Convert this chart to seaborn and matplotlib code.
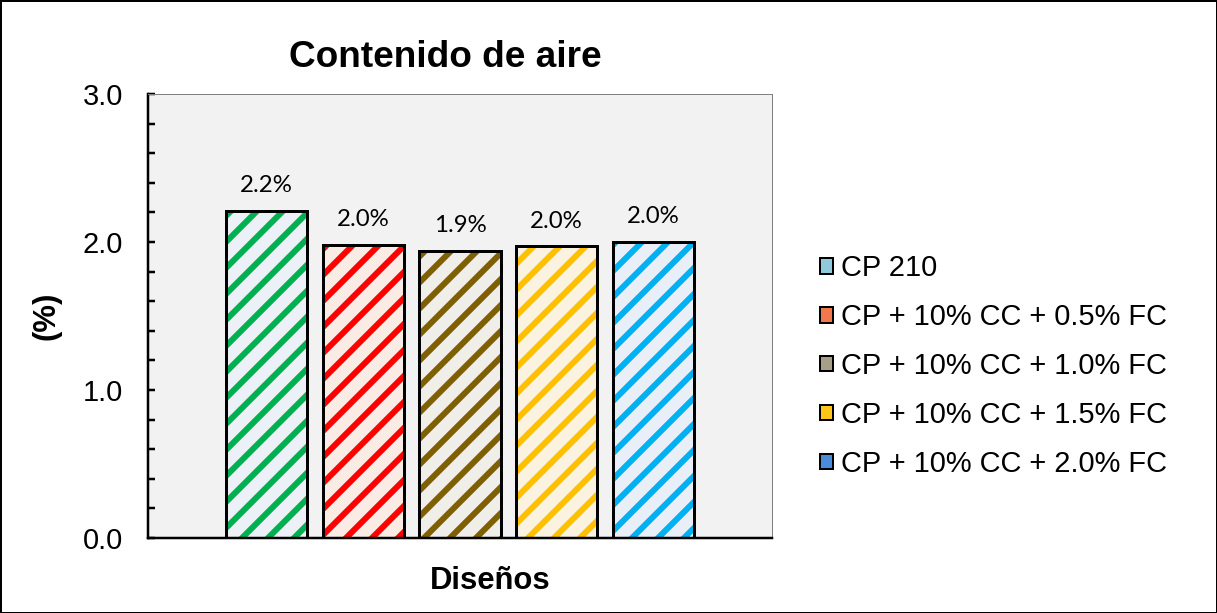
import pandas as pd
import seaborn as sns
import matplotlib.pyplot as plt
from matplotlib.patches import Rectangle, Patch

# data
disenos = ['CP 210', 'CP + 10% CC + 0.5% FC', 'CP + 10% CC + 1.0% FC',
           'CP + 10% CC + 1.5% FC', 'CP + 10% CC + 2.0% FC']
aire = [2.21, 1.98, 1.94, 1.97, 2.00]
etiquetas = ['2.2%', '2.0%', '1.9%', '2.0%', '2.0%']

hatch_colors = ['#00B050', '#FF0000', '#7F6000', '#FFC000', '#00B0F0']
face_colors = ['#EAF1FA', '#FDEBE2', '#F0EEE8', '#FFF5DC', '#E6EFFB']
legend_colors = ['#8FC9DC', '#F2784B', '#A59F88', '#FFC61A', '#4A8CDB']

data = pd.DataFrame({'Diseño': disenos, 'Aire': aire})

# dpi chosen so the hatch spacing matches the reference
DPI = 78
def px(v):
    return v * 72 / DPI

sns.set_theme(style='white')
plt.rcParams['font.family'] = ['Liberation Sans', 'DejaVu Sans']
plt.rcParams['hatch.linewidth'] = px(6)
for k in ['text.color', 'axes.labelcolor', 'xtick.color', 'ytick.color']:
    plt.rcParams[k] = 'black'

fig = plt.figure(figsize=(1217 / DPI, 613 / DPI), dpi=DPI)
ax = fig.add_axes([148 / 1217, 1 - 538 / 613, 624 / 1217, 444 / 613])
ax.set_facecolor('#F2F2F2')

sns.barplot(x='Diseño', y='Aire', data=data, hue='Diseño', palette=face_colors,
            dodge=False, legend=False, width=0.84, ax=ax)

for p, hc, lab in zip(ax.patches, hatch_colors, etiquetas):
    p.set_edgecolor(hc)
    p.set_hatch('/')
    p.set_linewidth(0)
    ax.add_patch(Rectangle(p.get_xy(), p.get_width(), p.get_height(), fill=False,
                           edgecolor='black', linewidth=px(3), zorder=3))
    ax.text(p.get_x() + p.get_width() / 2, p.get_height() + 0.1, lab,
            ha='center', va='bottom', fontsize=px(24), family=['Lato', 'DejaVu Sans'])

ax.set_xlim(-1.23, 5.23)
ax.set_ylim(0, 3)
ax.set_xticks([])
ax.set_yticks([0, 1, 2, 3])
ax.set_yticklabels(['0.0', '1.0', '2.0', '3.0'], fontsize=px(29))
ax.set_yticks([i * 0.2 for i in range(16)], minor=True)
ax.tick_params(axis='y', which='both', direction='in', left=True, width=px(2.5),
               length=px(7), color='black', pad=px(25))

for s in ['top', 'right']:
    ax.spines[s].set_color('#7F7F7F')
    ax.spines[s].set_linewidth(px(1))
for s in ['left', 'bottom']:
    ax.spines[s].set_color('black')
    ax.spines[s].set_linewidth(px(2.5))

ax.set_title('Contenido de aire', fontsize=px(37), fontweight='bold', pad=px(27), x=0.477)
ax.set_xlabel('Diseños', fontsize=px(31), fontweight='bold')
ax.set_ylabel('(%)', fontsize=px(31), fontweight='bold')
ax.xaxis.set_label_coords(0.548, -0.063)
ax.yaxis.set_label_coords(-0.138, 0.5)

handles = [Patch(facecolor=c, edgecolor='black', linewidth=px(2)) for c in legend_colors]
fig.legend(handles, disenos, loc='center left', bbox_to_anchor=(0.664, 0.403),
           frameon=False, fontsize=px(29), handlelength=0.45, handleheight=0.45,
           handletextpad=0.3, labelspacing=0.72, borderaxespad=0)

fig.patches.append(Rectangle((0, 0), 1, 1, transform=fig.transFigure, fill=False,
                             edgecolor='black', linewidth=px(3)))

plt.savefig('out.png', dpi=DPI)
